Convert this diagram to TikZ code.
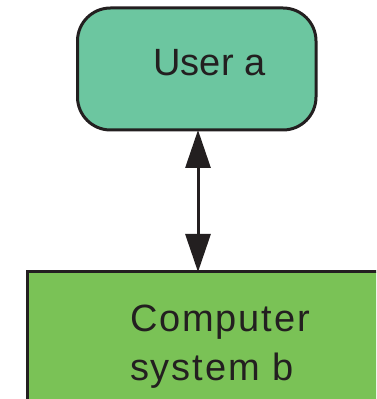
\documentclass[tikz,border=0pt]{standalone}
\usepackage{fontspec}
\setmainfont{Liberation Sans}
\usetikzlibrary{arrows.meta}
\definecolor{ink}{HTML}{231F20}
\definecolor{userfill}{RGB}{108,198,160}
\definecolor{compfill}{RGB}{122,194,86}
\tikzset{
  box/.style={draw=ink, line width=3pt, inner sep=0pt, outer sep=0pt},
  lbl/.style={inner sep=0pt, outer sep=0pt, text=ink, font=\fontsize{38pt}{49pt}\selectfont},
  link/.style={draw=ink, line width=3pt, {Triangle[length=38pt,width=25pt]}-{Triangle[length=38pt,width=25pt]}}
}
\begin{document}
\begin{tikzpicture}[x=1pt,y=1pt]
\useasboundingbox (0,0) rectangle (376,399);
\clip (0,0) rectangle (376,399);
\node[box, fill=userfill, rounded corners=33pt, minimum width=238.5pt, minimum height=122pt] (user) at (196.75,330) {};
\node[box, fill=compfill, anchor=north west, minimum width=380pt, minimum height=160pt, sharp corners] (comp) at (27,127) {};
\node[lbl, anchor=base] (usertext) at (209.5,323) {User a};
\node[lbl, anchor=base west, align=left, font=\fontsize{38pt}{49pt}\selectfont\addfontfeatures{LetterSpace=5}] (comptext) at (130,19) {Computer\\system b};
\draw[link] (198,0 |- user.south) -- (198,0 |- comp.north);
\end{tikzpicture}
\end{document}
